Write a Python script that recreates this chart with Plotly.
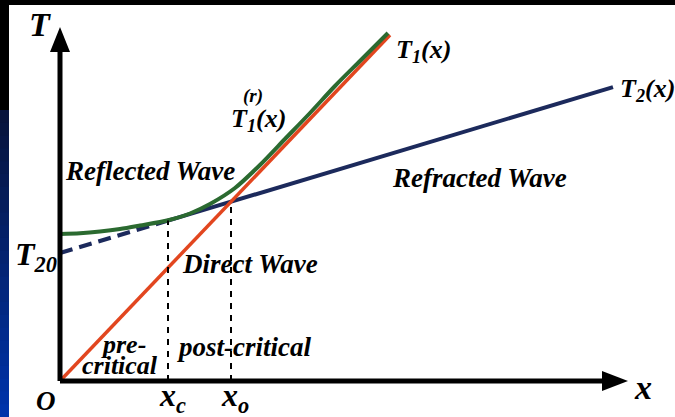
import plotly.graph_objects as go

# ---- data (time T vs offset x, arbitrary units) ----
x_direct = [0, 330]
t_direct = [0, 346]

x_refr_hidden = [0, 108]          # dashed (non-observed) head-wave branch
t_refr_hidden = [128, 160.4]
x_refr = [108, 553]               # refracted (head) wave
t_refr = [160.4, 293.9]

x_refl = [0, 20, 40, 60, 80, 108, 130, 150, 175, 200, 225, 250, 275, 300, 328]
t_refl = [147, 147.8, 149.5, 152, 155.5, 160.8, 167.5, 177, 193, 216, 242, 268, 295, 320, 348]

crit_x = [108, 171]               # x_c (critical), x_o (crossover)
crit_t = [160.4, 179.2]
crit_labels = ["x<sub>c</sub>", "x<sub>o</sub>"]

T20 = t_refr_hidden[0]

RED = "#e2461f"
GREEN = "#2b6a30"
NAVY = "#1c2a5c"
FONT = "Liberation Serif"

fig = go.Figure()

fig.add_trace(go.Scatter(x=x_refr_hidden, y=t_refr_hidden, mode="lines",
                         line=dict(color=NAVY, width=4, dash="13px,7px"), hoverinfo="skip"))
fig.add_trace(go.Scatter(x=x_refr, y=t_refr, mode="lines",
                         line=dict(color=NAVY, width=4), hoverinfo="skip"))
fig.add_trace(go.Scatter(x=x_direct, y=t_direct, mode="lines",
                         line=dict(color=RED, width=3.5), hoverinfo="skip"))
fig.add_trace(go.Scatter(x=x_refl, y=t_refl, mode="lines",
                         line=dict(color=GREEN, width=4, shape="spline", smoothing=0.8),
                         hoverinfo="skip"))
for cx, ct in zip(crit_x, crit_t):
    fig.add_trace(go.Scatter(x=[cx, cx], y=[0, ct], mode="lines",
                             line=dict(color="black", width=2, dash="6px,6px"), hoverinfo="skip"))

shapes = []
# white page area
shapes.append(dict(type="rect", xref="paper", yref="paper", x0=9/675, x1=1, y0=0, y1=1-5/417,
                   fillcolor="white", line=dict(width=0), layer="below"))
# left blue gradient strip
n = 24
top_py, bot_py = 110, 417
c0 = (8, 20, 60)
c1 = (0, 52, 170)
for i in range(n):
    f = i / (n - 1)
    c = tuple(int(c0[k] + (c1[k] - c0[k]) * f) for k in range(3))
    p0 = top_py + (bot_py - top_py) * i / n
    p1 = top_py + (bot_py - top_py) * (i + 1) / n + 1
    shapes.append(dict(type="rect", xref="paper", yref="paper", x0=0, x1=9/675,
                       y0=1 - p1/417, y1=1 - p0/417,
                       fillcolor="rgb(%d,%d,%d)" % c, line=dict(width=0), layer="below"))
# axes with arrows
shapes.append(dict(type="line", x0=0, y0=0, x1=0, y1=335, line=dict(color="black", width=5)))
shapes.append(dict(type="line", x0=0, y0=0, x1=548, y1=0, line=dict(color="black", width=5)))
shapes.append(dict(type="path", path="M -10,329 L 10,329 L 0,354 Z", fillcolor="black", line=dict(width=0)))
shapes.append(dict(type="path", path="M 542,-10 L 542,10 L 568,0 Z", fillcolor="black", line=dict(width=0)))

def ann(x, y, text, size, xanchor="center", yanchor="middle", align="center"):
    return dict(x=x, y=y, text="<b><i>%s</i></b>" % text, showarrow=False,
                font=dict(family=FONT, size=size, color="black"),
                xanchor=xanchor, yanchor=yanchor, align=align)

annotations = [
    ann(-20, 357, "T", 34),
    ann(-1, T20 - 3, "T<sub>20</sub>", 32, xanchor="right"),
    ann(-14, -20, "O", 27),
    ann(crit_x[0] + 4, -16, crit_labels[0], 32),
    ann(crit_x[1] + 4, -16, crit_labels[1], 32),
    ann(583, -6, "x", 34),
    ann(x_direct[1] + 33, t_direct[1] - 16, "T<sub>1</sub>(x)", 26),
    ann(x_refr[1] + 34, t_refr[1] - 3, "T<sub>2</sub>(x)", 26),
    ann(198, 261, "T<sub>1</sub>(x)", 26),
    ann(193, 285, "(r)", 19),
    ann(90, 210, "Reflected Wave", 27),
    ann(419, 203, "Refracted Wave", 27),
    ann(190, 117, "Direct Wave", 27),
    ann(63, 37, "pre-", 26),
    ann(60, 16, "critical", 26),
    ann(184, 34, "post-critical", 27),
]

fig.update_layout(
    width=675, height=417,
    margin=dict(l=0, r=0, t=0, b=0),
    paper_bgcolor="black", plot_bgcolor="black",
    showlegend=False,
    xaxis=dict(range=[-60, 615], visible=False, fixedrange=True),
    yaxis=dict(range=[-36, 381], visible=False, fixedrange=True),
    shapes=shapes, annotations=annotations,
)

fig.write_html("out.html", config={"displayModeBar": False},
               post_script="document.body.style.margin='0';")
